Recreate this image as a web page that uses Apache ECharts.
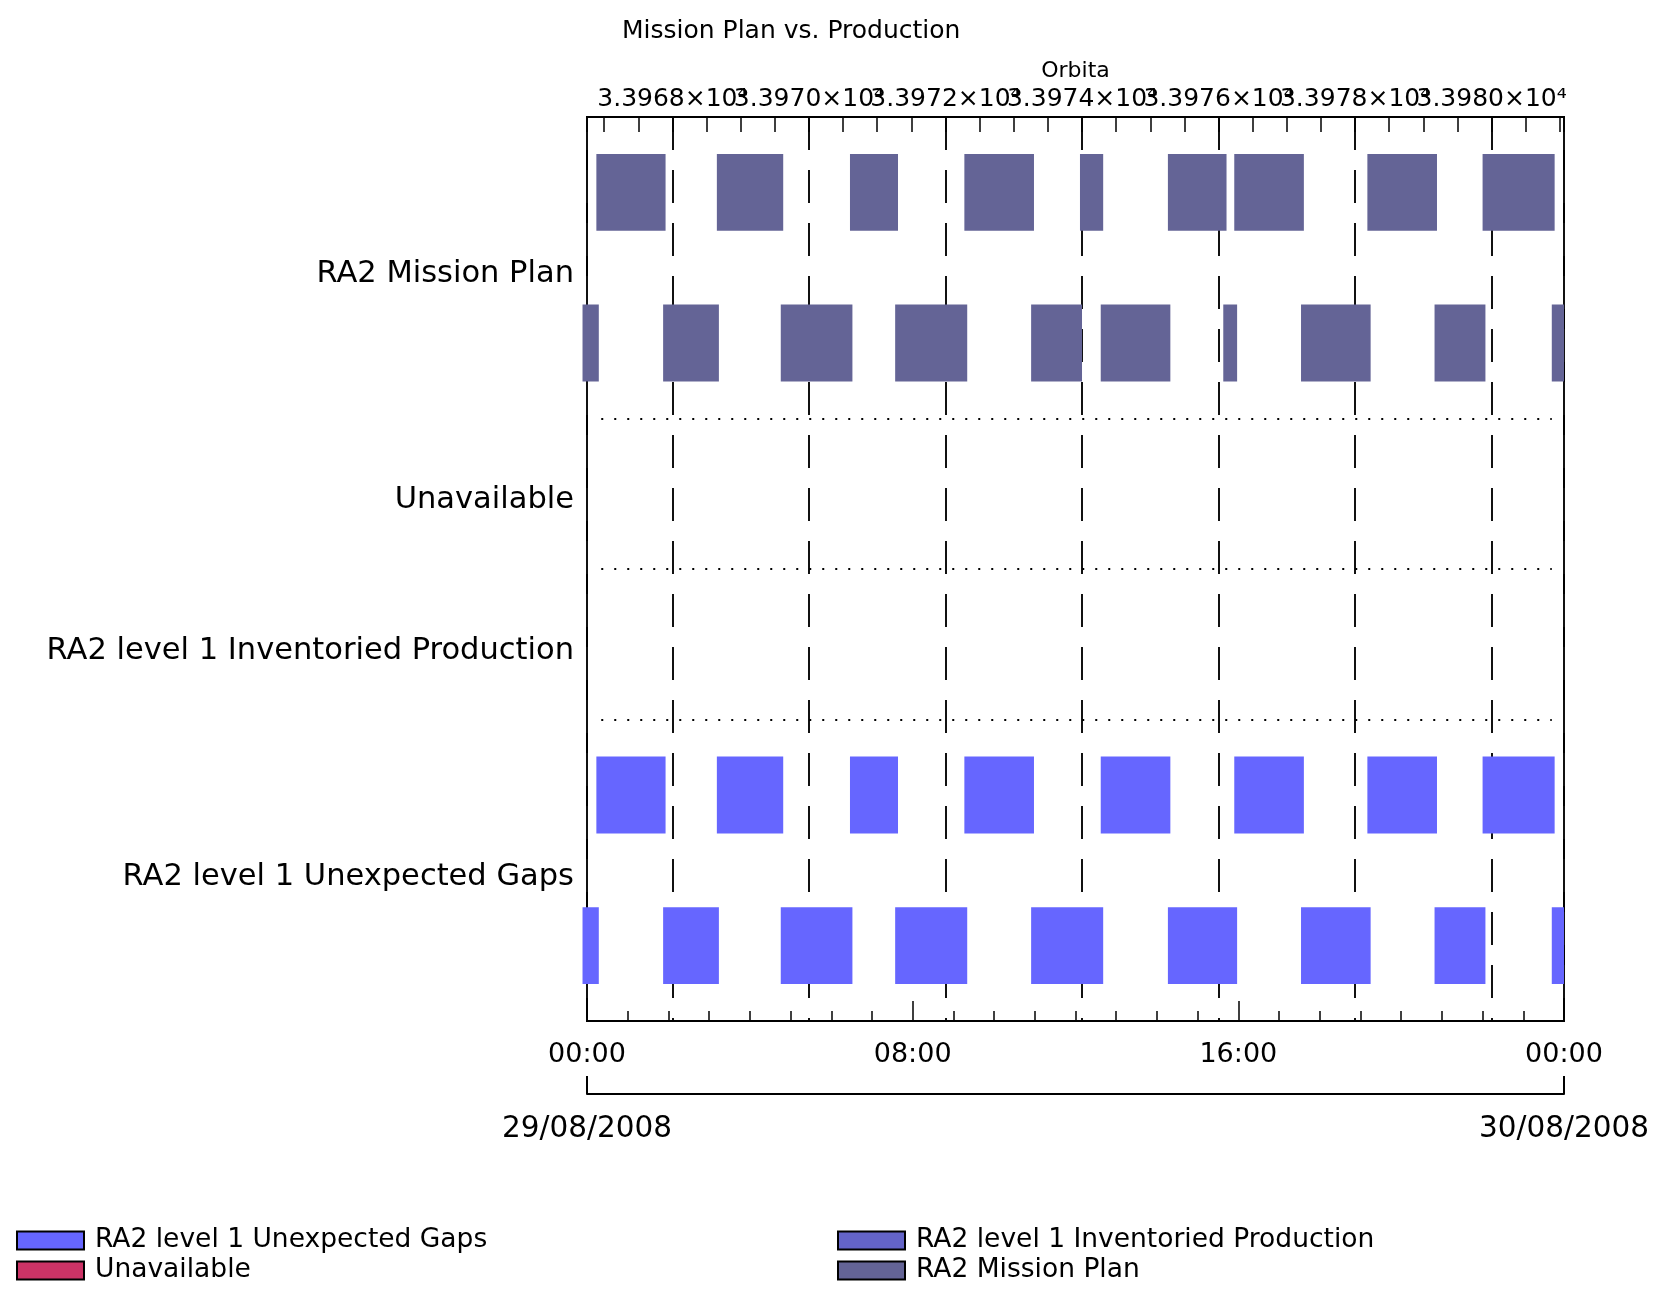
<!DOCTYPE html>
<html>
<head>
<meta charset="utf-8">
<title>Mission Plan vs. Production</title>
<script src="https://cdn.jsdelivr.net/npm/echarts@6/dist/echarts.min.js"></script>
<style>
  html, body { margin: 0; padding: 0; background: #fff; }
  #chart { width: 1668px; height: 1292px; }
</style>
</head>
<body>
<div id="chart"></div>
<script>
// rows of the plot, from bottom to top
const rowNames = ['RA2 level 1 Unexpected Gaps', 'RA2 level 1 Inventoried Production', 'Unavailable', 'RA2 Mission Plan']
const rowColors = ['#6666ff', '#6464c8', '#cc3366', '#646496']

// intervals in hours after 29/08/2008 00:00 -> [start, end]
// "A" = upper lane of a row, "B" = lower lane
const missionPlanA = [[0.23, 1.93], [3.19, 4.82], [6.46, 7.64], [9.27, 10.98], [12.11, 12.68], [14.27, 15.71], [15.90, 17.61], [19.17, 20.88], [22.00, 23.77]]
const missionPlanB = [[-0.11, 0.29], [1.87, 3.24], [4.76, 6.52], [7.57, 9.34], [10.91, 12.16], [12.62, 14.33], [15.63, 15.97], [17.54, 19.25], [20.82, 22.07], [23.70, 24.0]]
const gapsA = [[0.23, 1.93], [3.19, 4.82], [6.46, 7.64], [9.27, 10.98], [12.62, 14.33], [15.90, 17.61], [19.17, 20.88], [22.00, 23.77]]
const gapsB = [[-0.11, 0.29], [1.87, 3.24], [4.76, 6.52], [7.57, 9.34], [10.91, 12.68], [14.27, 15.97], [17.54, 19.25], [20.82, 22.07], [23.70, 24.0]]
const inventoried = []
const unavailable = []

// axes
const timeLabels = ['00:00', '08:00', '16:00', '00:00']
const dateLabels = ['29/08/2008', '30/08/2008']
const orbitStart = 33966.749
const orbitEnd = 33981.06

// row layout: rows with two lanes get twice the height
const rowSpan = [2, 1, 1, 2]
const rowBase = []
let acc = 0
rowSpan.forEach(s => { rowBase.push(acc); acc += s })
const yMax = acc

function lanes(lower, upper, row) {
  const out = []
  ;(lower || []).forEach(d => out.push([rowBase[row] + 0.5, d[0], d[1]]))
  ;(upper || []).forEach(d => out.push([rowBase[row] + 1.5, d[0], d[1]]))
  return out
}

function renderItem(params, api) {
  const y = api.value(0)
  const p0 = api.coord([api.value(1), y])
  const p1 = api.coord([api.value(2), y])
  const h = api.size([0, 0.51])[1]
  return {
    type: 'rect',
    shape: { x: p0[0], y: p0[1] - h / 2, width: p1[0] - p0[0], height: h },
    style: { fill: api.visual('color') }
  }
}

const font = 'DejaVu Sans'
const black = '#000'

let myChart = echarts.init(document.getElementById('chart'))

const seriesData = [
  lanes(gapsB, gapsA, 0),
  lanes(inventoried, null, 1),
  lanes(unavailable, null, 2),
  lanes(missionPlanB, missionPlanA, 3)
]

// dotted separators between rows
const separators = rowBase.slice(1).map(b => [{ coord: [0.35, b] }, { coord: [23.7, b] }])

function legendBox(names, left) {
  return {
    data: names,
    orient: 'vertical',
    left: left,
    top: 1227,
    padding: 0,
    icon: 'rect',
    itemWidth: 67,
    itemHeight: 18,
    itemGap: 3,
    selectedMode: false,
    itemStyle: { borderColor: black, borderWidth: 2 },
    textStyle: { fontFamily: font, fontSize: 26.5, color: black, lineHeight: 22, padding: [0, 0, 0, 6] }
  }
}

const options = {
  backgroundColor: '#fff',
  animation: false,
  textStyle: { fontFamily: font, color: black },
  title: {
    text: 'Mission Plan vs. Production',
    left: 617,
    top: 14,
    textStyle: { fontFamily: font, fontSize: 25, fontWeight: 'normal', color: black }
  },
  legend: [
    legendBox([rowNames[0], rowNames[2]], 16),
    legendBox([rowNames[1], rowNames[3]], 837)
  ],
  grid: {
    left: 587,
    top: 117,
    width: 977,
    height: 904,
    show: true,
    borderColor: black,
    borderWidth: 2,
    backgroundColor: 'transparent'
  },
  xAxis: [
    {
      // time of day
      type: 'value',
      position: 'bottom',
      min: 0,
      max: 24,
      interval: 8,
      axisLine: { show: true, lineStyle: { color: black, width: 2 } },
      axisTick: { show: true, inside: true, length: 20, lineStyle: { color: black, width: 1.5 } },
      minorTick: { show: true, splitNumber: 8, length: 10, lineStyle: { color: black, width: 1.5 } },
      splitLine: { show: false },
      axisLabel: {
        fontSize: 27,
        color: black,
        margin: 20,
        formatter: v => timeLabels[Math.round(v / 8)]
      }
    },
    {
      // orbit numbers, nice ticks (every 2 orbits)
      type: 'value',
      position: 'top',
      min: orbitStart,
      max: orbitEnd,
      splitNumber: 7,
      name: 'Orbita',
      nameLocation: 'middle',
      nameGap: 30,
      nameTextStyle: { fontFamily: font, fontSize: 22, color: black },
      axisLine: { show: true, lineStyle: { color: black, width: 2 } },
      axisTick: { show: true, inside: true, length: 15, lineStyle: { color: black, width: 1.5 } },
      minorTick: { show: true, splitNumber: 4, length: 15, lineStyle: { color: black, width: 1.5 } },
      splitLine: { show: true, lineStyle: { color: '#111', width: 2, type: [33, 20] } },
      axisLabel: {
        fontSize: 25,
        color: black,
        margin: 5,
        showMinLabel: false,
        showMaxLabel: false,
        formatter: v => (v / 10000).toFixed(4) + '×10⁴'
      }
    },
    {
      // date bracket
      type: 'value',
      position: 'bottom',
      offset: 73,
      min: 0,
      max: 24,
      interval: 24,
      axisLine: { show: true, lineStyle: { color: black, width: 2 } },
      axisTick: { show: true, inside: true, length: 18, lineStyle: { color: black, width: 2 } },
      splitLine: { show: false },
      axisLabel: {
        fontSize: 29.5,
        color: black,
        margin: 20,
        formatter: v => dateLabels[Math.round(v / 24)]
      }
    }
  ],
  yAxis: {
    type: 'value',
    min: 0,
    max: yMax,
    interval: 0.5,
    axisLine: { show: false },
    axisTick: { show: false },
    splitLine: { show: false },
    axisLabel: {
      fontSize: 30.5,
      color: black,
      margin: 13,
      verticalAlign: 'top',
      lineHeight: 13,
      formatter: v => {
        const i = rowBase.findIndex((b, k) => Math.abs(b + rowSpan[k] / 2 - v) < 1e-6)
        return i >= 0 ? rowNames[i] : ''
      }
    }
  },
  series: rowNames.map((name, i) => ({
    name: name,
    type: 'custom',
    xAxisIndex: 0,
    yAxisIndex: 0,
    renderItem: renderItem,
    clip: false,
    itemStyle: { color: rowColors[i] },
    encode: { x: [1, 2], y: 0 },
    data: seriesData[i],
    markLine: i === 3 ? {
      silent: true,
      symbol: ['none', 'none'],
      label: { show: false },
      lineStyle: { color: black, width: 2, type: [2, 11] },
      data: separators
    } : undefined
  }))
}

myChart.setOption(options)
</script>
</body>
</html>
